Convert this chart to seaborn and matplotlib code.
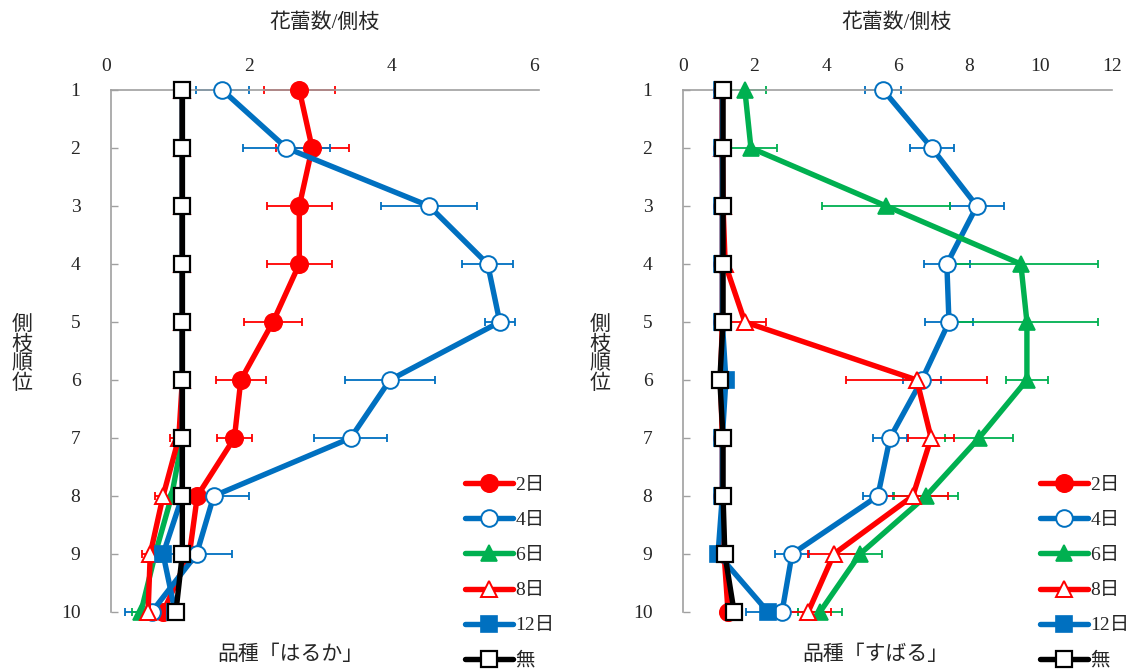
import matplotlib
matplotlib.use("Agg")
import matplotlib.pyplot as plt
from matplotlib.lines import Line2D
from matplotlib.transforms import ScaledTranslation
import pandas as pd
import seaborn as sns

# 側枝順位
ranks = [1, 2, 3, 4, 5, 6, 7, 8, 9, 10]
series_names = ["2日", "4日", "6日", "8日", "12日", "無"]

# 品種「はるか」 花蕾数/側枝（平均と標準誤差）
haruka_2 = [2.64, 2.82, 2.64, 2.64, 2.27, 1.82, 1.73, 1.21, 1.10, 0.73]
haruka_2_err = [0.50, 0.51, 0.46, 0.46, 0.41, 0.35, 0.25, 0.15, 0.20, 0.15]
haruka_4 = [1.56, 2.46, 4.46, 5.28, 5.45, 3.91, 3.36, 1.44, 1.20, 0.57]
haruka_4_err = [0.37, 0.61, 0.67, 0.36, 0.21, 0.63, 0.51, 0.50, 0.49, 0.38]
haruka_6 = [1.00, 1.00, 1.00, 1.00, 1.00, 1.00, 1.00, 0.85, 0.62, 0.42]
haruka_6_err = [0.05, 0.05, 0.05, 0.05, 0.05, 0.05, 0.05, 0.10, 0.10, 0.13]
haruka_8 = [1.00, 1.00, 1.00, 1.00, 1.00, 1.00, 0.95, 0.73, 0.55, 0.52]
haruka_8_err = [0.05, 0.05, 0.05, 0.05, 0.05, 0.05, 0.12, 0.11, 0.11, 0.08]
haruka_12 = [1.00, 1.00, 1.00, 1.00, 1.00, 1.00, 1.00, 1.00, 0.73, 0.90]
haruka_12_err = [0.05, 0.05, 0.05, 0.05, 0.05, 0.05, 0.05, 0.05, 0.08, 0.08]
haruka_none = [1.00, 1.00, 1.00, 1.00, 1.00, 1.00, 1.00, 1.00, 1.00, 0.91]
haruka_none_err = [0.03, 0.03, 0.03, 0.03, 0.03, 0.03, 0.03, 0.03, 0.03, 0.03]

# 品種「すばる」
subaru_2 = [1.10, 1.10, 1.10, 1.10, 1.10, 1.05, 1.10, 1.10, 1.15, 1.26]
subaru_2_err = [0.05, 0.05, 0.05, 0.05, 0.05, 0.05, 0.05, 0.05, 0.05, 0.05]
subaru_4 = [5.60, 6.96, 8.22, 7.38, 7.44, 6.68, 5.79, 5.45, 3.05, 2.77]
subaru_4_err = [0.50, 0.62, 0.75, 0.65, 0.66, 0.53, 0.47, 0.42, 0.48, 0.45]
subaru_6 = [1.73, 1.90, 5.68, 9.45, 9.62, 9.62, 8.28, 6.80, 4.95, 3.83]
subaru_6_err = [0.58, 0.73, 1.80, 2.15, 2.00, 0.59, 0.95, 0.90, 0.62, 0.62]
subaru_8 = [1.10, 1.10, 1.12, 1.18, 1.73, 6.54, 6.94, 6.43, 4.22, 3.50]
subaru_8_err = [0.05, 0.05, 0.05, 0.05, 0.58, 1.97, 0.65, 0.98, 0.72, 0.65]
subaru_12 = [1.10, 1.10, 1.10, 1.10, 1.10, 1.20, 1.10, 1.10, 0.98, 2.38]
subaru_12_err = [0.05, 0.05, 0.05, 0.05, 0.05, 0.05, 0.05, 0.05, 0.05, 0.62]
subaru_none = [1.12, 1.12, 1.12, 1.12, 1.12, 1.03, 1.12, 1.12, 1.17, 1.43]
subaru_none_err = [0.03, 0.03, 0.03, 0.03, 0.03, 0.03, 0.03, 0.03, 0.03, 0.03]

x_ticks_haruka = [0, 2, 4, 6]
x_ticks_subaru = [0, 2, 4, 6, 8, 10, 12]

panels = {
    "はるか": [(haruka_2, haruka_2_err), (haruka_4, haruka_4_err), (haruka_6, haruka_6_err),
             (haruka_8, haruka_8_err), (haruka_12, haruka_12_err), (haruka_none, haruka_none_err)],
    "すばる": [(subaru_2, subaru_2_err), (subaru_4, subaru_4_err), (subaru_6, subaru_6_err),
             (subaru_8, subaru_8_err), (subaru_12, subaru_12_err), (subaru_none, subaru_none_err)],
}

rows = []
for variety, lst in panels.items():
    for name, (vals, errs) in zip(series_names, lst):
        for r, v, e in zip(ranks, vals, errs):
            rows.append({"品種": variety, "処理": name, "側枝順位": r, "花蕾数": v, "誤差": e})
df = pd.DataFrame(rows)

RED = "#FF0000"
BLUE = "#0070C0"
GREEN = "#00B050"
BLACK = "#000000"
styles = {
    "2日": dict(color=RED, marker="o", markerfacecolor=RED, markeredgecolor=RED, markersize=12.5, markeredgewidth=1.2),
    "4日": dict(color=BLUE, marker="o", markerfacecolor="white", markeredgecolor=BLUE, markersize=12, markeredgewidth=1.4),
    "6日": dict(color=GREEN, marker="^", markerfacecolor=GREEN, markeredgecolor=GREEN, markersize=12, markeredgewidth=1.2),
    "8日": dict(color=RED, marker="^", markerfacecolor="white", markeredgecolor=RED, markersize=12, markeredgewidth=1.4),
    "12日": dict(color=BLUE, marker="s", markerfacecolor=BLUE, markeredgecolor=BLUE, markersize=11, markeredgewidth=1.2),
    "無": dict(color=BLACK, marker="s", markerfacecolor="white", markeredgecolor=BLACK, markersize=11, markeredgewidth=1.6),
}

sns.set_style("white")
plt.rcParams["font.family"] = ["Liberation Serif", "Noto Sans CJK JP"]
FS = 14
SPINE = "#A0A0A0"

W, H = 1134, 670
fig = plt.figure(figsize=(W / 100, H / 100), dpi=100)


def fx(px):
    return px / W


def fy(py):
    return 1 - py / H


ax_left = fig.add_axes([fx(111), fy(612), fx(539) - fx(111), fy(90) - fy(612)])
ax_right = fig.add_axes([fx(683), fy(612), fx(1112) - fx(683), fy(90) - fy(612)])

configs = [
    (ax_left, "はるか", 6, x_ticks_haruka, -5),
    (ax_right, "すばる", 12, x_ticks_subaru, 0),
]

for ax, variety, xmax, xticks, shift in configs:
    sub = df[df["品種"] == variety]
    # error bars below all series
    for name in series_names:
        s = sub[sub["処理"] == name]
        ax.errorbar(s["花蕾数"], s["側枝順位"], xerr=s["誤差"], fmt="none",
                    ecolor=styles[name]["color"], elinewidth=1.3, capsize=3,
                    capthick=1.3, zorder=1, clip_on=False)
    for i, name in enumerate(series_names):
        s = sub[sub["処理"] == name]
        sns.lineplot(data=s, x="花蕾数", y="側枝順位", orient="y", errorbar=None,
                     ax=ax, linewidth=3.9, clip_on=False, zorder=3 + i,
                     **styles[name])
    ax.set_xlim(0, xmax)
    ax.set_ylim(10, 1)
    ax.set_xticks(xticks)
    ax.set_yticks(ranks)
    ax.xaxis.tick_top()
    ax.tick_params(axis="x", length=0, pad=11, labelsize=FS)
    ax.tick_params(axis="y", direction="in", length=5, width=1, color=SPINE,
                   pad=22, labelsize=FS, left=True)
    for lab in ax.get_xticklabels():
        lab.set_transform(lab.get_transform() + ScaledTranslation(shift / 100, 0, fig.dpi_scale_trans))
    ax.set_xlabel("")
    ax.set_ylabel("")
    for side in ("right", "bottom"):
        ax.spines[side].set_visible(False)
    for side in ("left", "top"):
        ax.spines[side].set_color(SPINE)
        ax.spines[side].set_linewidth(1.2)
    ax.grid(False)
    ax.set_facecolor("none")

# axis titles and variety names
fig.text(fx(325), fy(23), "花蕾数/側枝", ha="center", va="center", fontsize=15)
fig.text(fx(897), fy(23), "花蕾数/側枝", ha="center", va="center", fontsize=15)
fig.text(fx(22), fy(355), "側\n枝\n順\n位", ha="center", va="center", fontsize=15, linespacing=1.05)
fig.text(fx(600), fy(355), "側\n枝\n順\n位", ha="center", va="center", fontsize=15, linespacing=1.05)
fig.text(fx(290), fy(655), "品種「はるか」", ha="center", va="center", fontsize=15)
fig.text(fx(875), fy(655), "品種「すばる」", ha="center", va="center", fontsize=15)

# legends
handles = [Line2D([], [], linewidth=3.9, **styles[n]) for n in series_names]
for x_px in (465, 1040):
    fig.legend(handles, series_names, loc="center left",
               bbox_to_anchor=(fx(x_px), fy(573)), frameon=False, fontsize=FS,
               handlelength=2.45, handletextpad=0.15, labelspacing=0.9,
               borderpad=0, borderaxespad=0)

fig.savefig("out.png", dpi=100)
